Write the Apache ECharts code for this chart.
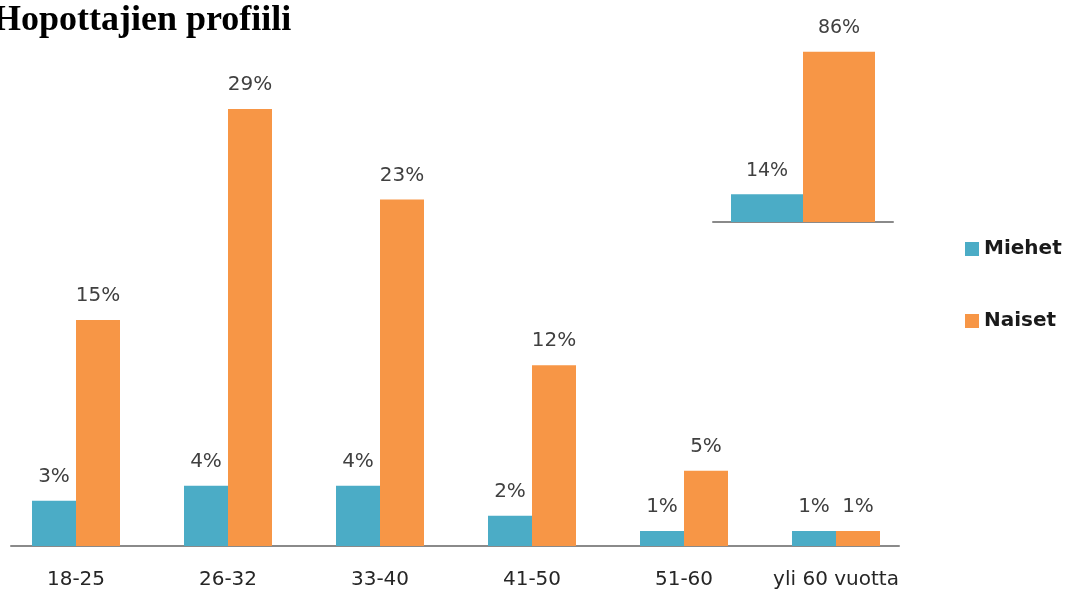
<!DOCTYPE html>
<html>
<head>
<meta charset="utf-8">
<title>Hopottajien profiili</title>
<script src="https://cdn.jsdelivr.net/npm/echarts@6/dist/echarts.min.js"></script>
<style>
  html, body { margin: 0; padding: 0; background: #fff; }
  #chart { width: 1066px; height: 591px; }
</style>
</head>
<body>
<div id="chart"></div>
<script>
// Age groups and share of respondents (%) per gender
const ageGroups = ['18-25', '26-32', '33-40', '41-50', '51-60', 'yli 60 vuotta'];
const miehet = [3, 4, 4, 2, 1, 1];
const naiset = [15, 29, 23, 12, 5, 1];

// Overall gender split (%) for the small summary chart
const totalMiehet = [14];
const totalNaiset = [86];

const TEAL = '#4BACC6';
const ORANGE = '#F79646';
const LABEL_FONT = 'DejaVu Sans, Verdana, sans-serif';

const pct = p => p.value + '%';

const chart = echarts.init(document.getElementById('chart'));

chart.setOption({
  animation: false,
  title: {
    text: 'Hopottajien profiili',
    left: -12,
    top: -2,
    textStyle: {
      fontFamily: 'Liberation Serif, Times New Roman, serif',
      fontWeight: 'bold',
      fontSize: 36,
      color: '#000'
    }
  },
  legend: {
    orient: 'vertical',
    left: 960,
    top: 234,
    itemWidth: 14,
    itemHeight: 14,
    itemGap: 52,
    icon: 'rect',
    data: ['Miehet', 'Naiset'],
    textStyle: {
      fontFamily: LABEL_FONT,
      fontWeight: 'bold',
      fontSize: 20,
      color: '#1a1a1a'
    }
  },
  grid: [
    // main age-group chart
    { left: -2, width: 914, top: 94, height: 452 },
    // summary chart
    { left: 713, width: 180, top: 24, height: 198 },
    // baseline of the main chart
    { left: 11, width: 888, top: 94, height: 452 }
  ],
  xAxis: [
    {
      gridIndex: 0,
      type: 'category',
      data: ageGroups,
      axisLine: { show: false },
      axisTick: { show: false },
      axisLabel: {
        interval: 0,
        margin: 24,
        fontFamily: LABEL_FONT,
        fontSize: 20,
        color: '#262626'
      }
    },
    {
      gridIndex: 1,
      type: 'category',
      data: [''],
      axisLine: { lineStyle: { color: '#8a8a8a', width: 2 } },
      axisTick: { show: false },
      axisLabel: { show: false }
    },
    {
      gridIndex: 2,
      type: 'value',
      min: 0,
      max: 1,
      axisLine: { show: true, onZero: false, lineStyle: { color: '#8a8a8a', width: 2 } },
      axisTick: { show: false },
      axisLabel: { show: false },
      splitLine: { show: false }
    }
  ],
  yAxis: [
    { gridIndex: 0, type: 'value', min: 0, max: 30, show: false },
    { gridIndex: 1, type: 'value', min: 0, max: 100, show: false },
    { gridIndex: 2, type: 'value', min: 0, max: 1, show: false }
  ],
  series: [
    {
      name: 'Miehet',
      type: 'bar',
      xAxisIndex: 0,
      yAxisIndex: 0,
      data: miehet,
      barWidth: 44,
      barGap: '0%',
      itemStyle: { color: TEAL },
      label: {
        show: true,
        position: 'top',
        distance: 14,
        formatter: pct,
        fontFamily: LABEL_FONT,
        fontSize: 20,
        color: '#404040'
      }
    },
    {
      name: 'Naiset',
      type: 'bar',
      xAxisIndex: 0,
      yAxisIndex: 0,
      data: naiset,
      barWidth: 44,
      barGap: '0%',
      itemStyle: { color: ORANGE },
      label: {
        show: true,
        position: 'top',
        distance: 14,
        formatter: pct,
        fontFamily: LABEL_FONT,
        fontSize: 20,
        color: '#404040'
      }
    },
    {
      name: 'Miehet',
      type: 'bar',
      xAxisIndex: 1,
      yAxisIndex: 1,
      data: totalMiehet,
      barWidth: 72,
      barGap: '0%',
      itemStyle: { color: TEAL },
      label: {
        show: true,
        position: 'top',
        distance: 14,
        formatter: pct,
        fontFamily: LABEL_FONT,
        fontSize: 19,
        color: '#404040'
      }
    },
    {
      name: 'Naiset',
      type: 'bar',
      xAxisIndex: 1,
      yAxisIndex: 1,
      data: totalNaiset,
      barWidth: 72,
      barGap: '0%',
      itemStyle: { color: ORANGE },
      label: {
        show: true,
        position: 'top',
        distance: 14,
        formatter: pct,
        fontFamily: LABEL_FONT,
        fontSize: 19,
        color: '#404040'
      }
    }
  ]
});
</script>
</body>
</html>
